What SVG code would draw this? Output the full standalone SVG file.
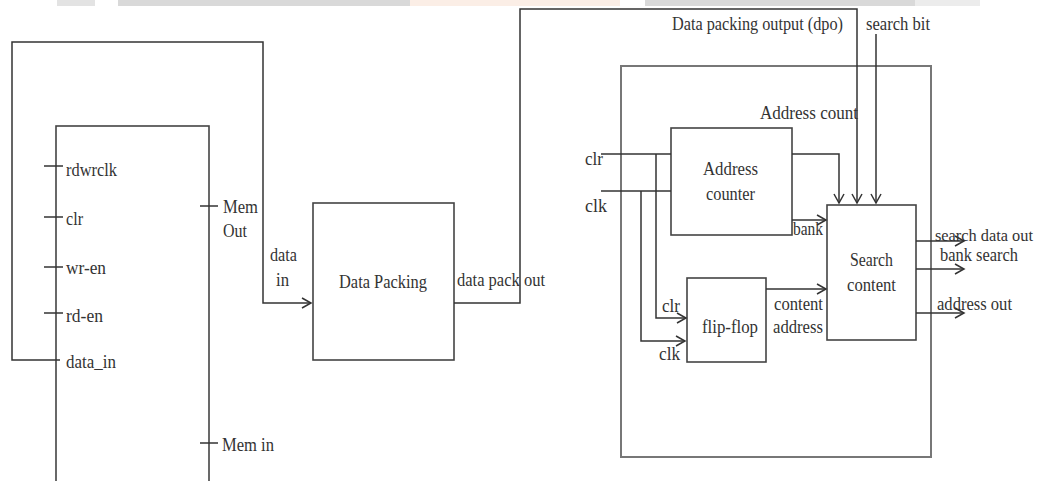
<svg xmlns="http://www.w3.org/2000/svg" width="1039" height="481" viewBox="0 0 1039 481">
<style>
.ln{fill:none;stroke:#333;stroke-width:1.5}
.bx{fill:none;stroke:#444;stroke-width:1.6}
.obx{fill:none;stroke:#777;stroke-width:2}
.t{font-family:"Liberation Serif","Times New Roman",serif;font-size:19px;fill:#333}
.s{font-size:16px}
</style>
<defs>
<marker id="ar" markerUnits="userSpaceOnUse" markerWidth="12" markerHeight="12" refX="9" refY="5" orient="auto" overflow="visible">
<path d="M0,0 L9,5 L0,10" fill="none" stroke="#333" stroke-width="1.5"/>
</marker>
</defs>
<rect x="0" y="0" width="1039" height="481" fill="#fff"/>
<g id="watermark">
<rect x="57" y="0" width="38" height="6" fill="#e3e3e3"/>
<rect x="118" y="0" width="292" height="6" fill="#d9d9d9"/>
<rect x="410" y="0" width="210" height="6" fill="#fbeee6"/>
<rect x="645" y="0" width="270" height="6" fill="#d9d9d9"/>
<rect x="915" y="0" width="65" height="6" fill="#ececec"/>
</g>
<g id="memory">
<rect class="bx" x="56" y="126" width="153" height="365"/>
<line class="ln" x1="44" y1="166" x2="63" y2="166"/>
<line class="ln" x1="44" y1="217" x2="63" y2="217"/>
<line class="ln" x1="44" y1="267" x2="63" y2="267"/>
<line class="ln" x1="44" y1="313" x2="63" y2="313"/>
<line class="ln" x1="200" y1="206" x2="218" y2="206"/>
<line class="ln" x1="200" y1="443" x2="218" y2="443"/>
<text class="t" x="66" y="176" textLength="51" lengthAdjust="spacingAndGlyphs">rdwrclk</text>
<text class="t" x="66" y="225" textLength="17" lengthAdjust="spacingAndGlyphs">clr</text>
<text class="t" x="66" y="274" textLength="40" lengthAdjust="spacingAndGlyphs">wr-en</text>
<text class="t" x="66" y="322" textLength="37" lengthAdjust="spacingAndGlyphs">rd-en</text>
<text class="t" x="66" y="368" textLength="50" lengthAdjust="spacingAndGlyphs">data_in</text>
<text class="t" x="223" y="213" textLength="35" lengthAdjust="spacingAndGlyphs">Mem</text>
<text class="t" x="223" y="237" textLength="24" lengthAdjust="spacingAndGlyphs">Out</text>
<text class="t" x="222" y="451" textLength="52" lengthAdjust="spacingAndGlyphs">Mem in</text>
</g>
<g id="data-packing">
<rect class="bx" x="313" y="203" width="141" height="157"/>
<text class="t" x="339" y="288" textLength="88" lengthAdjust="spacingAndGlyphs">Data Packing</text>
</g>
<g id="search-system">
<rect class="obx" x="621" y="66" width="310" height="391"/>
</g>
<g id="address-counter">
<rect class="bx" x="671" y="128" width="121" height="107"/>
<text class="t" x="703" y="175" textLength="55" lengthAdjust="spacingAndGlyphs">Address</text>
<text class="t" x="706" y="200" textLength="49" lengthAdjust="spacingAndGlyphs">counter</text>
</g>
<g id="flip-flop">
<rect class="bx" x="687" y="278" width="79" height="84"/>
<text class="t" x="702" y="333" textLength="56" lengthAdjust="spacingAndGlyphs">flip-flop</text>
</g>
<g id="search-content">
<rect class="bx" x="827" y="205" width="89" height="135"/>
<text class="t" x="850" y="266" textLength="43" lengthAdjust="spacingAndGlyphs">Search</text>
<text class="t" x="847" y="291" textLength="49" lengthAdjust="spacingAndGlyphs">content</text>
</g>
<g id="connectors">
<polyline class="ln" points="60,360 12,360 12,42 263,42 263,303 311,303" marker-end="url(#ar)"/>
<polyline class="ln" points="454,303 520,303 520,9 857,9 857,203" marker-end="url(#ar)"/>
<line class="ln" x1="876" y1="34" x2="876" y2="203" marker-end="url(#ar)"/>
<polyline class="ln" points="792,154 839,154 839,203" marker-end="url(#ar)"/>
<line class="ln" x1="792" y1="220" x2="826" y2="220" marker-end="url(#ar)"/>
<line class="ln" x1="601" y1="154" x2="671" y2="154"/>
<line class="ln" x1="601" y1="191" x2="671" y2="191"/>
<polyline class="ln" points="656,154 656,318 686,318" marker-end="url(#ar)"/>
<polyline class="ln" points="641,191 641,341 685,341" marker-end="url(#ar)"/>
<line class="ln" x1="766" y1="289" x2="826" y2="289" marker-end="url(#ar)"/>
<line class="ln" x1="916" y1="241" x2="964" y2="241" marker-end="url(#ar)"/>
<line class="ln" x1="916" y1="269" x2="964" y2="269" marker-end="url(#ar)"/>
<line class="ln" x1="916" y1="313" x2="964" y2="313" marker-end="url(#ar)"/>
</g>
<g id="labels">
<text class="t" x="270" y="261" textLength="27" lengthAdjust="spacingAndGlyphs">data</text>
<text class="t" x="276" y="286" textLength="13" lengthAdjust="spacingAndGlyphs">in</text>
<text class="t" x="457" y="286" textLength="88" lengthAdjust="spacingAndGlyphs">data pack out</text>
<text class="t" x="672" y="30" textLength="171" lengthAdjust="spacingAndGlyphs">Data packing output (dpo)</text>
<text class="t" x="866" y="30" textLength="64" lengthAdjust="spacingAndGlyphs">search bit</text>
<text class="t" x="760" y="119" textLength="98" lengthAdjust="spacingAndGlyphs">Address count</text>
<text class="t" x="585" y="165" textLength="18" lengthAdjust="spacingAndGlyphs">clr</text>
<text class="t" x="585" y="212" textLength="22" lengthAdjust="spacingAndGlyphs">clk</text>
<text class="t" x="662" y="312" textLength="18" lengthAdjust="spacingAndGlyphs">clr</text>
<text class="t" x="659" y="360" textLength="21" lengthAdjust="spacingAndGlyphs">clk</text>
<text class="t" x="774" y="310" textLength="49" lengthAdjust="spacingAndGlyphs">content</text>
<text class="t" x="773" y="333" textLength="50" lengthAdjust="spacingAndGlyphs">address</text>
<text class="t" x="793" y="235" textLength="30" lengthAdjust="spacingAndGlyphs">bank</text>
<text class="t s" x="935" y="241" textLength="98" lengthAdjust="spacingAndGlyphs">search data out</text>
<text class="t" x="940" y="261" textLength="78" lengthAdjust="spacingAndGlyphs">bank search</text>
<text class="t" x="937" y="310" textLength="75" lengthAdjust="spacingAndGlyphs">address out</text>
</g>
</svg>
